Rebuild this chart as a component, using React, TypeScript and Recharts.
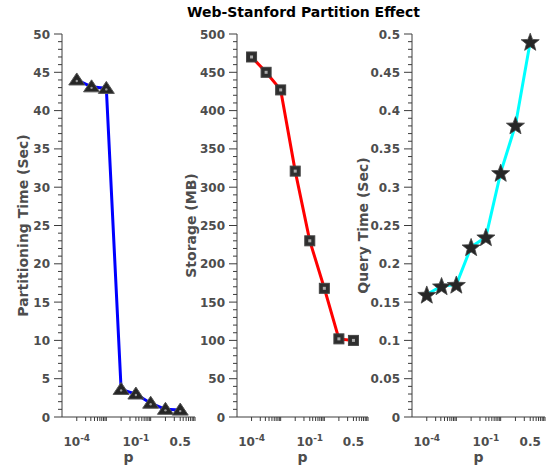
import React from "react";
import { LineChart, Line, XAxis, YAxis } from "recharts";

// sampling ratios p, plotted at equal spacing like the original figure
const pCategories = ["1e-4", "5e-4", "1e-3", "1e-2", "1e-1", "0.2", "0.3", "0.5"];
const partitionTime = [44, 43.1, 42.9, 3.6, 3.0, 1.8, 1.0, 0.9];
const storageMB = [470, 450, 427, 321, 230, 168, 102, 100];
const queryTime = [0.16, 0.171, 0.173, 0.222, 0.235, 0.319, 0.381, 0.49];

// x axis ticks (in category-index units)
const xLabelTicks = [0, 4, 7];
const xLabelBase = ["10", "10", "0.5"];
const xLabelExp = ["-4", "-1", ""];
const xMinorTicks = [
  0, 0.6, 0.95, 1.2, 1.4, 1.56, 1.69, 1.81, 1.91, 2,
  3, 3.6, 4, 4.2, 4.4, 4.56, 4.69, 4.81, 4.91, 5,
  6, 6.6, 7, 7.2, 7.4, 7.56, 7.69, 7.81, 7.91, 8,
];

const FONT = '"DejaVu Sans", Verdana, sans-serif';
const GREY = "#4d4d4d";
const AXIS = "#3c3c3c";

const data = pCategories.map((p, i) => ({
  x: i,
  p,
  time: partitionTime[i],
  storage: storageMB[i],
  query: queryTime[i],
}));

const range = (n: number, step: number) => Array.from({ length: n + 1 }, (_, i) => +(i * step).toFixed(4));

const makeYTick = (step: number, majorEvery: number) => (props: any) => {
  const { x, y, payload } = props;
  const v = payload.value;
  const isMajor = Math.round(v / step) % majorEvery === 0;
  return (
    <g>
      <line x1={x} x2={x - (isMajor ? 8 : 4)} y1={y} y2={y} stroke={AXIS} />
      {isMajor && (
        <text x={x - 12} y={y} dy={4.5} textAnchor="end" fontFamily={FONT} fontSize={12} fontWeight="bold" fill={GREY}>
          {String(parseFloat(v.toFixed(2)))}
        </text>
      )}
    </g>
  );
};

const XTick = (props: any) => {
  const { x, y, payload } = props;
  const idx = xLabelTicks.indexOf(payload.value);
  return (
    <g>
      <line x1={x} x2={x} y1={y} y2={y + 4} stroke={AXIS} />
      {idx >= 0 && (
        <text x={x} y={y + 29} textAnchor="middle" fontFamily={FONT} fontSize={12} fontWeight="bold" fill={GREY}>
          {xLabelBase[idx]}
          {xLabelExp[idx] && (
            <tspan dy={-5} fontSize={9}>
              {xLabelExp[idx]}
            </tspan>
          )}
        </text>
      )}
    </g>
  );
};

const TriangleDot = (props: any) => {
  const { cx, cy, index } = props;
  return (
    <g key={`t${index}`}>
      <polygon
        points={`${cx},${cy - 7} ${cx - 8},${cy + 5} ${cx + 8},${cy + 5}`}
        fill="#262626"
        stroke="#555"
        strokeWidth={1}
      />
      <circle cx={cx} cy={cy + 1} r={1.2} fill="#999" />
    </g>
  );
};

const SquareDot = (props: any) => {
  const { cx, cy, index } = props;
  return (
    <g key={`s${index}`}>
      <rect x={cx - 5} y={cy - 5} width={10} height={10} fill="#2e2e2e" stroke="#444" />
      <rect x={cx - 1.5} y={cy - 1.5} width={3} height={3} fill="#aaa" />
    </g>
  );
};

const starPoints = (cx: number, cy: number, R: number, r: number) => {
  const pts: string[] = [];
  for (let k = 0; k < 10; k++) {
    const a = -Math.PI / 2 + (k * Math.PI) / 5;
    const rad = k % 2 === 0 ? R : r;
    pts.push(`${cx + rad * Math.cos(a)},${cy + rad * Math.sin(a)}`);
  }
  return pts.join(" ");
};

const StarDot = (props: any) => {
  const { cx, cy, index } = props;
  return <polygon key={`st${index}`} points={starPoints(cx, cy + 1, 9.5, 4)} fill="#262626" stroke="#444" strokeWidth={0.8} />;
};

const yTitle = (text: string, dx: number) => (props: any) => {
  const vb = props.viewBox;
  const cx = vb.x + dx;
  const cy = vb.y + vb.height / 2;
  return (
    <text x={cx} y={cy} transform={`rotate(-90 ${cx} ${cy})`} textAnchor="middle" dominantBaseline="central" fontFamily={FONT} fontSize={14} fontWeight="bold" fill={GREY}>
      {text}
    </text>
  );
};

const xTitle = (props: any) => {
  const vb = props.viewBox;
  return (
    <text x={vb.x + vb.width / 2} y={vb.y + 45} textAnchor="middle" fontFamily={FONT} fontSize={14} fontWeight="bold" fill={GREY}>
      p
    </text>
  );
};

interface PanelProps {
  left: number;
  width: number;
  axisWidth: number;
  rightPad: number;
  dataKey: string;
  color: string;
  yMax: number;
  step: number;
  title: string;
  titleX: number;
  dot: any;
}

function Panel({ left, width, axisWidth, rightPad, dataKey, color, yMax, step, title, titleX, dot }: PanelProps) {
  return (
    <div style={{ position: "absolute", left, top: 0 }}>
      <LineChart width={width} height={469} data={data} margin={{ top: 34, right: rightPad, left: 0, bottom: 0 }}>
        <XAxis
          type="number"
          dataKey="x"
          domain={[-1, 8]}
          ticks={xMinorTicks}
          interval={0}
          tickSize={0}
          tickMargin={0}
          tickLine={false}
          tick={XTick}
          axisLine={{ stroke: AXIS }}
          height={52}
          label={xTitle}
        />
        <YAxis
          type="number"
          domain={[0, yMax]}
          ticks={range(Math.round(yMax / step), step)}
          interval={0}
          tickSize={0}
          tickMargin={0}
          tickLine={false}
          tick={makeYTick(step, 5)}
          axisLine={{ stroke: AXIS }}
          width={axisWidth}
          label={yTitle(title, titleX)}
        />
        <Line
          type="linear"
          dataKey={dataKey}
          stroke={color}
          strokeWidth={3}
          dot={dot}
          activeDot={false}
          isAnimationActive={false}
        />
      </LineChart>
    </div>
  );
}

export default function App() {
  return (
    <div style={{ position: "absolute", left: 0, top: 0, width: 552, height: 469, background: "#fff", overflow: "hidden" }}>
      <div
        style={{
          position: "absolute",
          left: 0,
          width: 607,
          top: 4,
          textAlign: "center",
          fontFamily: FONT,
          fontSize: 14,
          fontWeight: "bold",
          color: "#000",
        }}
      >
        Web-Stanford Partition Effect
      </div>
      <Panel left={0} width={200} axisWidth={62} rightPad={5} dataKey="time" color="#0000ff" yMax={50} step={1} title="Partitioning Time (Sec)" titleX={23} dot={TriangleDot} />
      <Panel left={180} width={190} axisWidth={57} rightPad={2} dataKey="storage" color="#ff0000" yMax={500} step={10} title="Storage (MB)" titleX={11} dot={SquareDot} />
      <Panel left={355} width={197} axisWidth={57} rightPad={7} dataKey="query" color="#00ffff" yMax={0.5} step={0.01} title="Query Time (Sec)" titleX={8} dot={StarDot} />
    </div>
  );
}
